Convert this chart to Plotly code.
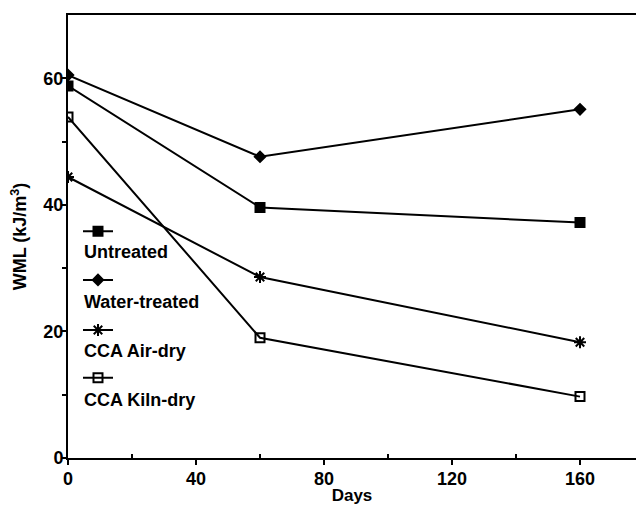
import plotly.graph_objects as go

days = [0, 60, 160]
untreated = [58.8, 39.6, 37.2]
water_treated = [60.5, 47.6, 55.1]
cca_air_dry = [44.4, 28.6, 18.3]
cca_kiln_dry = [53.9, 19.0, 9.7]

series_names = ["Untreated", "Water-treated", "CCA Air-dry", "CCA Kiln-dry"]
series_values = [untreated, water_treated, cca_air_dry, cca_kiln_dry]
symbols = ["square", "diamond", "asterisk-open", "square-open"]
sizes = [9, 8, 10, 9]

FONT = "Liberation Sans, Arial, sans-serif"

# legend layout (paper coords): symbol row and label row for each entry
legend_sym_y = [0.512, 0.402, 0.289, 0.181]
legend_txt_y = [0.465, 0.352, 0.242, 0.131]
legend_x = 0.0246

fig = go.Figure()
for i, (name, vals) in enumerate(zip(series_names, series_values)):
    style = dict(
        line=dict(color="black", width=2),
        marker=dict(symbol=symbols[i], size=sizes[i], color="black",
                    line=dict(color="black", width=2)),
    )
    fig.add_trace(go.Scatter(x=days, y=vals, name=name, mode="lines+markers",
                             showlegend=False, **style))
    # legend-only entry showing the symbol (label drawn below it)
    lg = "legend" if i == 0 else f"legend{i + 1}"
    fig.add_trace(go.Scatter(x=[None], y=[None], name=" ", mode="lines+markers",
                             showlegend=True, legend=lg, hoverinfo="skip", **style))
    fig.add_annotation(text=name, xref="paper", yref="paper",
                       x=legend_x, y=legend_txt_y[i], xanchor="left", yanchor="middle",
                       showarrow=False,
                       font=dict(family=FONT, size=18, color="black", weight="bold"))

legend_common = dict(xanchor="left", yanchor="middle", bgcolor="rgba(0,0,0,0)",
                     borderwidth=0, itemwidth=30,
                     font=dict(family=FONT, size=12, color="black"))
layout_legends = {}
for i in range(4):
    key = "legend" if i == 0 else f"legend{i + 1}"
    layout_legends[key] = dict(x=legend_x - 0.007, y=legend_sym_y[i], **legend_common)

fig.update_layout(
    width=636, height=505,
    margin=dict(l=68, r=0, t=15, b=47),
    paper_bgcolor="white", plot_bgcolor="white",
    font=dict(family=FONT, size=18, color="black"),
    showlegend=True,
    **layout_legends,
    xaxis=dict(range=[0, 177.5], tickvals=[0, 40, 80, 120, 160],
               showline=True, linecolor="black", linewidth=2, mirror=True,
               ticks="outside", ticklen=5, tickwidth=2, tickcolor="black",
               minor=dict(tickvals=[20, 60, 100, 140], ticks="inside", ticklen=4,
                          tickwidth=2, tickcolor="black"),
               showgrid=False, zeroline=False,
               ticklabelstandoff=-2,
               tickfont=dict(family=FONT, size=18, weight="bold"),
               title=dict(text="Days", standoff=2,
                          font=dict(family=FONT, size=17, weight="bold"))),
    yaxis=dict(range=[0, 70], tickvals=[0, 20, 40, 60],
               showline=True, linecolor="black", linewidth=2, mirror=False,
               ticks="outside", ticklen=5, tickwidth=2, tickcolor="black",
               minor=dict(tickvals=[10, 30, 50], ticks="outside", ticklen=4,
                          tickwidth=2, tickcolor="black"),
               showgrid=False, zeroline=False,
               ticklabelstandoff=-6,
               tickfont=dict(family=FONT, size=18, weight="bold"),
               title=dict(text="WML (kJ/m<sup>3</sup>)", standoff=12,
                          font=dict(family=FONT, size=18, weight="bold"))),
)

fig.write_html("out.html")
